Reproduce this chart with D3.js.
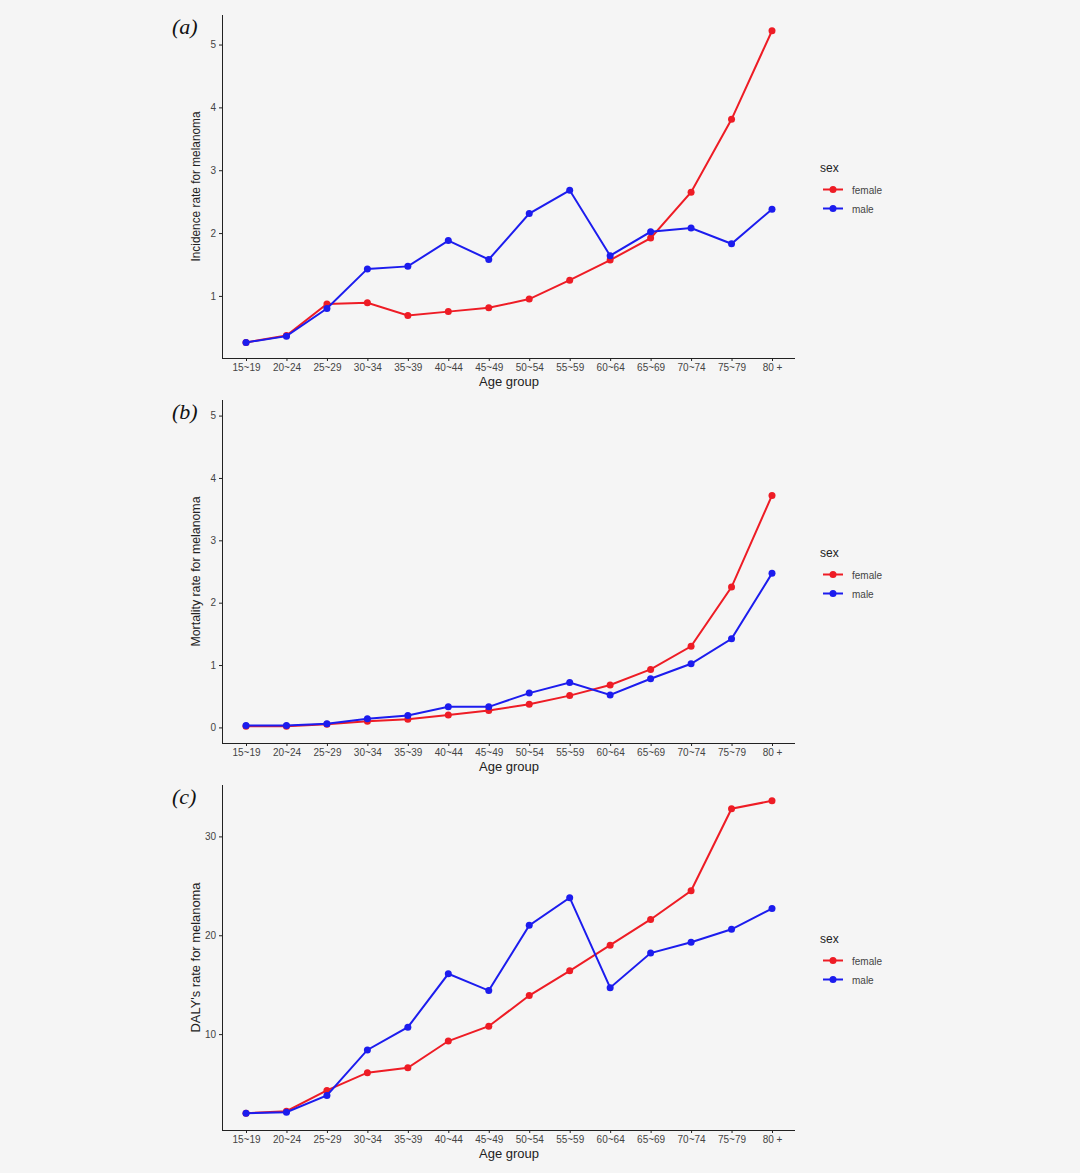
<!DOCTYPE html><html><head><meta charset="utf-8">
<script src="https://cdn.jsdelivr.net/npm/d3@7"></script>
<style>body{margin:0;background:#f5f5f5}</style></head><body>
<svg id="c" width="1080" height="1173"></svg>
<script>
const ageGroups=["15~19","20~24","25~29","30~34","35~39","40~44","45~49","50~54","55~59","60~64","65~69","70~74","75~79","80 +"];
const incFemale=[0.26,0.37,0.87,0.89,0.69,0.75,0.81,0.95,1.25,1.57,1.92,2.65,3.81,5.22];
const incMale=[0.26,0.36,0.80,1.43,1.47,1.88,1.58,2.31,2.68,1.64,2.02,2.08,1.83,2.38];
const morFemale=[0.02,0.02,0.05,0.10,0.13,0.20,0.27,0.37,0.51,0.68,0.93,1.30,2.25,3.72];
const morMale=[0.03,0.03,0.06,0.14,0.19,0.33,0.33,0.55,0.72,0.52,0.78,1.02,1.42,2.47];
const dalyFemale=[2.0,2.2,4.3,6.1,6.6,9.3,10.8,13.9,16.4,19.0,21.6,24.5,32.8,33.6];
const dalyMale=[2.0,2.1,3.8,8.4,10.7,16.1,14.4,21.0,23.8,14.7,18.2,19.3,20.6,22.7];
const panels=[
 {lab:"(a)",yt:"Incidence rate for melanoma",f:incFemale,m:incMale,dom:[0.012,5.47],ticks:[1,2,3,4,5],top:15,bot:358},
 {lab:"(b)",yt:"Mortality rate for melanoma",f:morFemale,m:morMale,dom:[-0.25,5.25],ticks:[0,1,2,3,4,5],top:400,bot:743},
 {lab:"(c)",yt:"DALY's rate for melanoma",f:dalyFemale,m:dalyMale,dom:[0.3,35.2],ticks:[10,20,30],top:785,bot:1130}];
const svg=d3.select("#c");
const x=d3.scalePoint().domain(ageGroups).range([246,772]);
const cols={female:"#ee1c25",male:"#1c1cee"};
panels.forEach(p=>{
 const g=svg.append("g");
 const y=d3.scaleLinear().domain(p.dom).range([p.bot,p.top]);
 const ya=g.append("g").attr("transform","translate(222,0)").call(d3.axisLeft(y).tickValues(p.ticks).tickSize(3).tickFormat(d3.format("d")));
 const xa=g.append("g").attr("transform",`translate(0,${p.bot})`).call(d3.axisBottom(x).tickSize(3).tickSizeOuter(0));
 xa.select(".domain").attr("d",`M222,0.5H795`);
 [ya,xa].forEach(a=>{a.selectAll("text").attr("fill","#444").attr("font-size",10).attr("font-family","Liberation Sans, Arial");a.selectAll("line,path").attr("stroke","#222")});
 ya.select(".domain").attr("d",`M0.5,${p.top}V${p.bot}`);
 g.append("text").attr("x",509).attr("y",p.bot+28).attr("text-anchor","middle").attr("font-size",13).attr("fill","#222").attr("font-family","Liberation Sans, Arial").text("Age group");
 g.append("text").attr("transform",`translate(200,${(p.top+p.bot)/2}) rotate(-90)`).attr("text-anchor","middle").attr("font-size",12).attr("fill","#222").attr("font-family","Liberation Sans, Arial").attr("textLength",150).attr("lengthAdjust","spacingAndGlyphs").text(p.yt);
 g.append("text").attr("x",172).attr("y",p.top+19).attr("font-size",22).attr("font-style","italic").attr("font-family","Liberation Serif, serif").attr("fill","#111").text(p.lab);
 [["female",p.f],["male",p.m]].forEach(([k,v])=>{
  const line=d3.line().x((d,i)=>x(ageGroups[i])).y(d=>y(d));
  g.append("path").attr("d",line(v)).attr("fill","none").attr("stroke",cols[k]).attr("stroke-width",2);
  g.selectAll(null).data(v).enter().append("circle").attr("cx",(d,i)=>x(ageGroups[i])).attr("cy",d=>y(d)).attr("r",3.5).attr("fill",cols[k]);
 });
 const ly=(p.top+p.bot)/2;
 g.append("text").attr("x",820).attr("y",ly-15).attr("font-size",12).attr("fill","#222").attr("font-family","Liberation Sans, Arial").text("sex");
 ["female","male"].forEach((k,i)=>{
  const yy=ly+3+i*19;
  g.append("line").attr("x1",823).attr("x2",843).attr("y1",yy).attr("y2",yy).attr("stroke",cols[k]).attr("stroke-width",2);
  g.append("circle").attr("cx",833).attr("cy",yy).attr("r",3.5).attr("fill",cols[k]);
  g.append("text").attr("x",852).attr("y",yy+4).attr("font-size",10).attr("fill","#444").attr("font-family","Liberation Sans, Arial").text(k);
 });
});
</script></body></html>
